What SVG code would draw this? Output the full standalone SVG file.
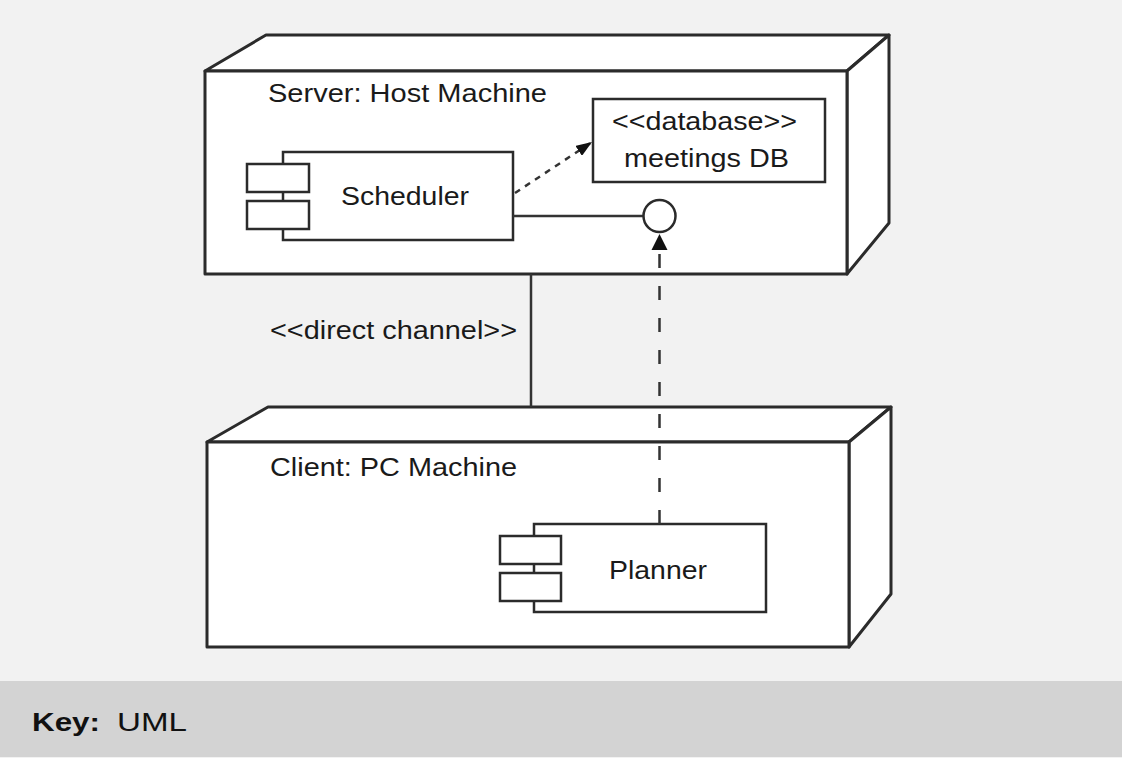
<svg xmlns="http://www.w3.org/2000/svg" width="1122" height="758" viewBox="0 0 1122 758">
  <style>
    .face { fill: #ffffff; stroke: #2b2b2b; stroke-width: 3; stroke-linejoin: round; }
    .comp { fill: #ffffff; stroke: #2b2b2b; stroke-width: 2.5; }
    .line { fill: none; stroke: #333333; stroke-width: 2.5; }
    .lbl { font-family: "Liberation Sans", Arial, sans-serif; font-size: 26px; fill: #1a1a1a; }
    .key { font-family: "Liberation Sans", Arial, sans-serif; font-size: 26px; fill: #111111; }
  </style>
  <defs>
    <marker id="arrow" viewBox="0 0 16 12" refX="16" refY="6" markerWidth="16" markerHeight="12" markerUnits="userSpaceOnUse" orient="auto">
      <path d="M0,0 L16,6 L0,12 Z" fill="#111111"/>
    </marker>
  </defs>
  <rect x="0" y="0" width="1122" height="758" fill="#f2f2f2"/>
  <rect x="0" y="681" width="1122" height="76" fill="#d3d3d3"/>

  <g id="server-node">
    <polygon class="face" points="205,71 266,35 889,35 847,71"/>
    <polygon class="face" points="847,71 889,35 889,223 847,274"/>
    <rect class="face" x="205" y="71" width="642" height="203"/>
    <text class="lbl" x="268" y="102" textLength="279" lengthAdjust="spacingAndGlyphs">Server: Host Machine</text>
  </g>

  <g id="meetings-db">
    <rect class="comp" x="593" y="99" width="232" height="83"/>
    <text class="lbl" x="612" y="130" textLength="185" lengthAdjust="spacingAndGlyphs">&lt;&lt;database&gt;&gt;</text>
    <text class="lbl" x="624" y="167" textLength="165" lengthAdjust="spacingAndGlyphs">meetings DB</text>
  </g>

  <g id="scheduler">
    <rect class="comp" x="283" y="152" width="230" height="88"/>
    <rect class="comp" x="247" y="164" width="62" height="28"/>
    <rect class="comp" x="247" y="201" width="62" height="28"/>
    <text class="lbl" x="341" y="205" textLength="128" lengthAdjust="spacingAndGlyphs">Scheduler</text>
  </g>

  <g id="client-node">
    <polygon class="face" points="207,442 268,407 891,407 849,442"/>
    <polygon class="face" points="849,442 891,407 891,594 849,647"/>
    <rect class="face" x="207" y="442" width="642" height="205"/>
    <text class="lbl" x="270" y="476" textLength="247" lengthAdjust="spacingAndGlyphs">Client: PC Machine</text>
  </g>

  <g id="planner">
    <rect class="comp" x="534" y="524" width="232" height="88"/>
    <rect class="comp" x="500" y="536" width="61" height="28"/>
    <rect class="comp" x="500" y="573" width="61" height="28"/>
    <text class="lbl" x="609" y="579" textLength="98" lengthAdjust="spacingAndGlyphs">Planner</text>
  </g>

  <g id="connectors">
    <line class="line" x1="531" y1="274" x2="531" y2="407"/>
    <text class="lbl" x="270" y="339" textLength="247" lengthAdjust="spacingAndGlyphs">&lt;&lt;direct channel&gt;&gt;</text>
    <line class="line" x1="513" y1="216" x2="643.5" y2="216"/>
    <circle class="comp" cx="659.5" cy="216" r="16"/>
    <line class="line" x1="659.5" y1="524" x2="659.5" y2="250" stroke-dasharray="14 18"/>
    <polygon points="659.5,234 651.5,250 667.5,250" fill="#111111"/>
    <line class="line" x1="515" y1="193" x2="592" y2="142" stroke-dasharray="6 6" marker-end="url(#arrow)"/>
  </g>

  <g id="key">
    <text class="key" x="32" y="731" font-weight="bold" textLength="68" lengthAdjust="spacingAndGlyphs">Key:</text>
    <text class="key" x="117" y="731" textLength="70" lengthAdjust="spacingAndGlyphs">UML</text>
  </g>
</svg>
